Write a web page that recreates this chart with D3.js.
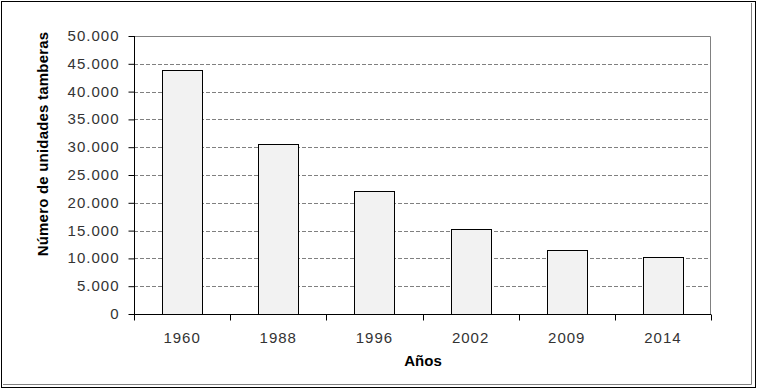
<!DOCTYPE html>
<html>
<head>
<meta charset="utf-8">
<script src="https://cdn.jsdelivr.net/npm/d3@7"></script>
<style>
  body { margin: 0; background: #fff; }
  text { font-family: "Liberation Sans", Arial, sans-serif; }
</style>
</head>
<body>
<svg class="chart"></svg>
<script>
var width = 757;
var height = 389;

var margin = { top: 36, right: 46, bottom: 75, left: 134 }; // plot area inside the chart frame

var years = ["1960", "1988", "1996", "2002", "2009", "2014"];
var units = [43800, 30500, 22100, 15200, 11600, 10200];
var yTicks = [0, 5000, 10000, 15000, 20000, 25000, 30000, 35000, 40000, 45000, 50000];

var data = years.map(function(y, i) { return { year: y, value: units[i] }; });

var chart = d3.select(".chart")
    .attr("width", width)
    .attr("height", height);

// outer frame (black with grey inner shadow on right/bottom)
chart.append("rect")
    .attr("x", 1.5).attr("y", 1.5)
    .attr("width", width - 3).attr("height", height - 3)
    .attr("fill", "#fff").attr("stroke", "#000");
chart.append("path")
    .attr("d", "M" + (width - 5.5) + ",3 V" + (height - 4.5) + " H3")
    .attr("fill", "none").attr("stroke", "#808080");

var plotW = width - margin.left - margin.right;
var plotH = height - margin.top - margin.bottom;

var x = d3.scaleBand()
    .domain(years)
    .range([0, plotW])
    .paddingInner(0.584)
    .paddingOuter(0.292);

var y = d3.scaleLinear()
    .domain([0, 50000])
    .range([plotH, 0]);

var g = chart.append("g")
    .attr("transform", "translate(" + margin.left + "," + margin.top + ")");

// plot border (grey top/right)
g.append("path")
    .attr("d", "M0,0.5 H" + (plotW - 0.5) + " V" + plotH)
    .attr("fill", "none").attr("stroke", "#808080");

// gridlines
g.selectAll("line.grid")
    .data(yTicks.filter(function(d) { return d > 0 && d < 50000; }))
    .enter()
    .append("line")
    .attr("class", "grid")
    .attr("x1", 0).attr("x2", plotW - 1)
    .attr("y1", function(d) { return Math.round(y(d)) + 0.5; })
    .attr("y2", function(d) { return Math.round(y(d)) + 0.5; })
    .attr("stroke", "#808080")
    .attr("stroke-dasharray", "4,2");

// bars
g.selectAll("rect.bar")
    .data(data)
    .enter()
    .append("rect")
    .attr("class", "bar")
    .attr("x", function(d) { return Math.round(x(d.year)) + 0.5; })
    .attr("y", function(d) { return Math.round(y(d.value)) + 0.5; })
    .attr("width", Math.round(x.bandwidth()))
    .attr("height", function(d) { return plotH - Math.round(y(d.value)); })
    .attr("fill", "#f2f2f2")
    .attr("stroke", "#000");

var fmt = function(d) { return d3.format(",")(d).replace(/,/g, "."); };

// y axis
var yAxis = g.append("g")
    .attr("transform", "translate(0.5,0)")
    .call(d3.axisLeft(y).tickValues(yTicks).tickSize(6).tickPadding(9).tickFormat(fmt));
yAxis.select(".domain").attr("stroke", "#000").attr("d", "M0,0 V" + (plotH + 0.5));
yAxis.selectAll(".tick line").attr("stroke", "#000");
yAxis.selectAll(".tick text")
    .attr("fill", "#333")
    .style("font-size", "15px")
    .style("letter-spacing", "1px")
    .attr("dy", "0.3em");

// x axis
var xAxis = g.append("g")
    .attr("transform", "translate(0," + (plotH + 0.5) + ")")
    .call(d3.axisBottom(x).tickSize(0).tickPadding(18));
xAxis.select(".domain").attr("stroke", "#000").attr("d", "M0,0 H" + plotW);
xAxis.selectAll(".tick text")
    .attr("fill", "#333")
    .style("font-size", "15px")
    .style("letter-spacing", "1px");

// category boundary ticks
xAxis.selectAll("line.sep")
    .data(d3.range(years.length + 1))
    .enter()
    .append("line")
    .attr("class", "sep")
    .attr("x1", function(i) { return Math.round(i * x.step()) + 0.5; })
    .attr("x2", function(i) { return Math.round(i * x.step()) + 0.5; })
    .attr("y1", 0).attr("y2", 6)
    .attr("stroke", "#000");

// axis titles
chart.append("text")
    .attr("x", 423)
    .attr("y", 366)
    .attr("text-anchor", "middle")
    .style("font-size", "15px")
    .style("font-weight", "bold")
    .attr("fill", "#000")
    .text("Años");

chart.append("text")
    .attr("transform", "translate(48,144) rotate(-90)")
    .attr("text-anchor", "middle")
    .style("font-size", "15px")
    .style("font-weight", "bold")
    .style("letter-spacing", "0.2px")
    .attr("fill", "#000")
    .text("Número de unidades tamberas");
</script>
</body>
</html>
